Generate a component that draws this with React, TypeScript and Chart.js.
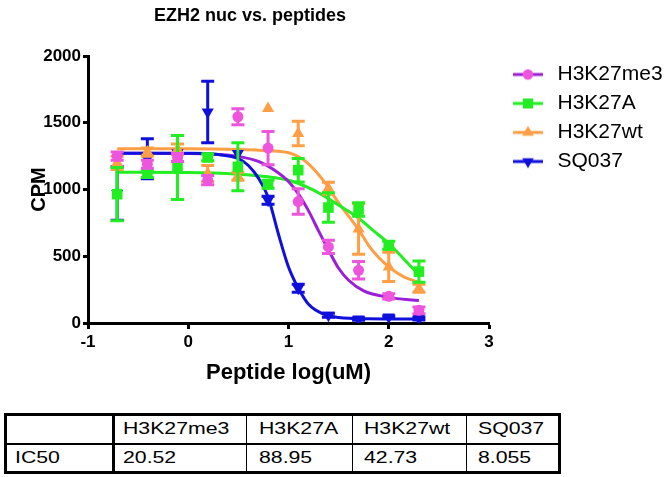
import React, { useEffect, useRef } from 'react';
import { Chart, registerables } from 'chart.js';

Chart.register(...registerables);

// ---------------- data ----------------
const xLog = [-0.709, -0.408, -0.107, 0.194, 0.495, 0.796, 1.097, 1.398, 1.699, 2.0, 2.301];

const seriesNames = ['H3K27me3', 'H3K27A', 'H3K27wt', 'SQ037'];

const me3Mean = [1250, 1190, 1240, 1070, 1545, 1310, 910, 570, 395, 200, 95];
const me3Err = [30, 30, 30, 35, 60, 125, 95, 50, 65, 20, 25];

const aMean = [965, 1120, 1165, 1240, 1170, 1040, 1145, 865, 850, 582, 385];
const aErr = [200, 30, 240, 25, 180, 30, 88, 110, 50, 30, 80];

const wtMean = [1200, 1280, 1300, 1120, 1100, 1606, 1420, 1010, 705, 420, 260];
const wtErr = [50, 30, 40, 60, 30, 0, 92, 45, 190, 110, 30];

const sqMean = [970, 1230, 1275, 1580, 1270, 920, 260, 58, 30, 45, 33];
const sqErr = [200, 150, 0, 230, 0, 30, 30, 15, 10, 10, 10];

// fitted curves
const me3FitX = [-0.709, 0, 0.3, 0.5, 0.7, 0.85, 1.0, 1.1, 1.2, 1.3, 1.4, 1.5, 1.6, 1.75, 2.0, 2.301];
const me3FitY = [1272, 1270, 1262, 1248, 1210, 1150, 1060, 965, 840, 690, 545, 410, 320, 240, 192, 168];

const aFitX = [-0.709, 0, 0.5, 0.8, 1.0, 1.1, 1.25, 1.4, 1.55, 1.7, 1.85, 2.0, 2.15, 2.301];
const aFitY = [1130, 1128, 1115, 1095, 1070, 1045, 995, 930, 860, 785, 690, 595, 480, 360];

const wtFitX = [-0.709, 0, 0.5, 0.8, 1.0, 1.1, 1.2, 1.35, 1.5, 1.6, 1.7, 1.8, 1.9, 2.0, 2.15, 2.301];
const wtFitY = [1305, 1305, 1300, 1290, 1275, 1245, 1192, 1065, 900, 800, 700, 580, 490, 420, 345, 305];

const sqFitX = [-0.709, 0, 0.3, 0.5, 0.6, 0.7, 0.8, 0.9, 1.0, 1.1, 1.2, 1.35, 1.5, 1.8, 2.301];
const sqFitY = [1272, 1271, 1262, 1232, 1180, 1085, 935, 665, 420, 258, 140, 66, 42, 32, 30];

const xTicks = [-1, 0, 1, 2, 3];
const yTicks = [0, 500, 1000, 1500, 2000];

const tableHeaders = ['', 'H3K27me3', 'H3K27A', 'H3K27wt', 'SQ037'];
const tableRowLabel = 'IC50';
const ic50Values = ['20.52', '88.95', '42.73', '8.055'];

// ---------------- styles ----------------
const FONT = "'Liberation Sans', Arial, Helvetica, sans-serif";
const markerColors = ['#EE55DD', '#22EE22', '#FF9E45', '#1010DD'];
const curveColors = ['#9B1FD6', '#22EE22', '#FF9E45', '#1010DD'];
const shapes = ['circle', 'rect', 'triangle', 'triangle'];
const rotations = [0, 0, 0, 180];
const radii = [5.5, 7.5, 7, 7];

function drawShape(ctx: CanvasRenderingContext2D, shape: string, rot: number, x: number, y: number, r: number) {
  ctx.beginPath();
  if (shape === 'circle') {
    ctx.arc(x, y, r, 0, Math.PI * 2);
  } else if (shape === 'rect') {
    const s = r * Math.SQRT1_2;
    ctx.rect(x - s, y - s, 2 * s, 2 * s);
  } else {
    let a = (rot * Math.PI) / 180;
    ctx.moveTo(x + Math.sin(a) * r, y - Math.cos(a) * r);
    a += (2 * Math.PI) / 3;
    ctx.lineTo(x + Math.sin(a) * r, y - Math.cos(a) * r);
    a += (2 * Math.PI) / 3;
    ctx.lineTo(x + Math.sin(a) * r, y - Math.cos(a) * r);
    ctx.closePath();
  }
  ctx.fill();
}

function makeLegendIcon(i: number): HTMLCanvasElement {
  const c = document.createElement('canvas');
  c.width = 44;
  c.height = 18;
  const ctx = c.getContext('2d')!;
  ctx.strokeStyle = curveColors[i];
  ctx.lineWidth = 3;
  ctx.beginPath();
  ctx.moveTo(13, 9);
  ctx.lineTo(43, 9);
  ctx.stroke();
  ctx.fillStyle = markerColors[i];
  drawShape(ctx, shapes[i], rotations[i], 28, 9, radii[i] * 0.95);
  return c;
}

const errorBarPlugin = {
  id: 'errorBars',
  afterDatasetDraw(chart: any, args: any) {
    const ds = chart.data.datasets[args.index];
    if (!ds.errors) return;
    const { ctx, chartArea } = chart;
    const xs = chart.scales.x;
    const ys = chart.scales.y;
    ctx.save();
    ctx.beginPath();
    ctx.rect(chartArea.left - 10, chartArea.top - 10, chartArea.width + 20, chartArea.height + 20);
    ctx.clip();
    ctx.strokeStyle = ds.backgroundColor;
    ctx.lineWidth = 3;
    ds.data.forEach((p: any, j: number) => {
      const e = ds.errors[j];
      if (!e) return;
      const px = xs.getPixelForValue(p.x);
      const top = ys.getPixelForValue(p.y + e);
      const bot = ys.getPixelForValue(p.y - e);
      ctx.beginPath();
      ctx.moveTo(px, top);
      ctx.lineTo(px, bot);
      ctx.moveTo(px - 6.5, top);
      ctx.lineTo(px + 6.5, top);
      ctx.moveTo(px - 6.5, bot);
      ctx.lineTo(px + 6.5, bot);
      ctx.stroke();
    });
    ctx.restore();
  },
};

const layoutPlugin = {
  id: 'layoutTweaks',
  beforeInit(chart: any) {
    const lg = chart.legend;
    if (lg) {
      const orig = lg.fit;
      lg.fit = function () {
        orig.call(this);
        this.width = 183;
      };
    }
  },
  afterLayout(chart: any) {
    if (chart.titleBlock) {
      chart.titleBlock.left = 0;
      chart.titleBlock.right = 500;
    }
  },
};

export default function App() {
  const ref = useRef<HTMLCanvasElement | null>(null);

  useEffect(() => {
    if (!ref.current) return;
    const means = [me3Mean, aMean, wtMean, sqMean];
    const errs = [me3Err, aErr, wtErr, sqErr];
    const fitXs = [me3FitX, aFitX, wtFitX, sqFitX];
    const fitYs = [me3FitY, aFitY, wtFitY, sqFitY];
    const icons = seriesNames.map((_, i) => makeLegendIcon(i));

    const pointSets = seriesNames.map((name, i) => ({
      label: name,
      data: xLog.map((x, j) => ({ x, y: means[i][j] })),
      errors: errs[i],
      showLine: false,
      pointStyle: shapes[i],
      rotation: rotations[i],
      pointRadius: radii[i],
      pointBackgroundColor: markerColors[i],
      pointBorderColor: markerColors[i],
      pointBorderWidth: 0,
      backgroundColor: markerColors[i],
      borderColor: markerColors[i],
      order: 1 + i,
    }));
    const curveOrder = [6, 7, 8, 5];
    const curveSets = seriesNames.map((name, i) => ({
      label: name + ' fit',
      data: fitXs[i].map((x, j) => ({ x, y: fitYs[i][j] })),
      showLine: true,
      pointRadius: 0,
      borderColor: curveColors[i],
      backgroundColor: curveColors[i],
      borderWidth: 3,
      cubicInterpolationMode: 'monotone',
      order: curveOrder[i],
    }));

    const chart = new Chart(ref.current, {
      type: 'scatter',
      data: { datasets: [...pointSets, ...curveSets] as any },
      options: {
        responsive: false,
        animation: false,
        devicePixelRatio: 1,
        layout: { padding: 0 },
        font: { family: FONT },
        plugins: {
          tooltip: { enabled: false },
          title: {
            display: true,
            text: 'EZH2 nuc vs. peptides',
            color: '#000',
            font: { family: FONT, size: 18, weight: 'bold' },
            padding: { top: 5, bottom: 29.4 },
          },
          legend: {
            display: true,
            position: 'right',
            align: 'start',
            fullSize: false,
            labels: {
              usePointStyle: true,
              pointStyleWidth: 50,
              padding: 8,
              color: '#000',
              font: { family: FONT, size: 21 },
              generateLabels: () =>
                seriesNames.map((name, i) => ({
                  text: name,
                  pointStyle: icons[i],
                  fillStyle: markerColors[i],
                  strokeStyle: curveColors[i],
                  lineWidth: 0,
                  hidden: false,
                  datasetIndex: i,
                })) as any,
            },
          },
        },
        scales: {
          x: {
            type: 'linear',
            min: -1,
            max: 3,
            afterFit: (s: any) => {
              s.height = 77;
            },
            afterBuildTicks: (s: any) => {
              s.ticks = xTicks.map((v) => ({ value: v }));
            },
            grid: { display: true, drawOnChartArea: false, drawTicks: true, tickLength: 6, tickWidth: 3, tickColor: '#000' },
            border: { display: true, color: '#000', width: 3 },
            ticks: {
              color: '#000',
              padding: 3,
              font: { family: FONT, size: 17, weight: 'bold' },
              callback: (v: any) => String(v),
            },
            title: {
              display: true,
              text: 'Peptide log(uM)',
              color: '#000',
              font: { family: FONT, size: 22, weight: 'bold' },
              padding: { top: 0, bottom: 14 },
            },
          },
          y: {
            type: 'linear',
            min: 0,
            max: 2000,
            afterFit: (s: any) => {
              s.width = 88;
            },
            afterBuildTicks: (s: any) => {
              s.ticks = yTicks.map((v) => ({ value: v }));
            },
            grid: { display: true, drawOnChartArea: false, drawTicks: true, tickLength: 5, tickWidth: 3, tickColor: '#000' },
            border: { display: true, color: '#000', width: 3 },
            ticks: {
              color: '#000',
              padding: 2,
              font: { family: FONT, size: 17, weight: 'bold' },
              callback: (v: any) => String(v),
            },
            title: {
              display: true,
              text: 'CPM',
              color: '#000',
              font: { family: FONT, size: 20, weight: 'bold' },
              padding: { top: 27, bottom: 0 },
            },
          },
        },
      } as any,
      plugins: [errorBarPlugin, layoutPlugin],
    });
    return () => chart.destroy();
  }, []);

  const colEdges = [4, 113, 246, 352, 466, 561];
  const textInset = [11, 10, 13, 12, 12];
  const cellText = (t: string, key: string, left: number, cy: number) => (
    <span
      key={key}
      style={{
        position: 'absolute',
        left,
        top: cy - 10,
        height: 20,
        lineHeight: '20px',
        fontFamily: FONT,
        fontSize: 17,
        color: '#000',
        whiteSpace: 'nowrap',
        transform: 'scaleX(1.25)',
        transformOrigin: 'left center',
      }}
    >
      {t}
    </span>
  );

  return (
    <div style={{ position: 'fixed', left: 0, top: 0, width: 672, height: 477, background: '#fff', overflow: 'hidden' }}>
      <canvas ref={ref} width={672} height={400} style={{ display: 'block', width: 672, height: 400 }} />
      {/* IC50 table */}
      <div style={{ position: 'absolute', left: colEdges[0], top: 413, width: colEdges[5] - colEdges[0], height: 61, border: '3px solid #000', boxSizing: 'border-box' }} />
      <div style={{ position: 'absolute', left: colEdges[0], top: 442.5, width: colEdges[5] - colEdges[0], height: 2.5, background: '#000' }} />
      {colEdges.slice(1, 5).map((x, i) => (
        <div key={'v' + i} style={{ position: 'absolute', left: i === 0 ? x - 1.5 : x - 0.5, top: 413, width: i === 0 ? 3 : 1, height: 61, background: '#000' }} />
      ))}
      {tableHeaders.map((h, i) => (h ? cellText(h, 'h' + i, colEdges[i] + textInset[i], 429) : null))}
      {cellText(tableRowLabel, 'rl', colEdges[0] + textInset[0], 458)}
      {ic50Values.map((v, i) => cellText(v, 'v' + i, colEdges[i + 1] + textInset[i + 1], 458))}
    </div>
  );
}
